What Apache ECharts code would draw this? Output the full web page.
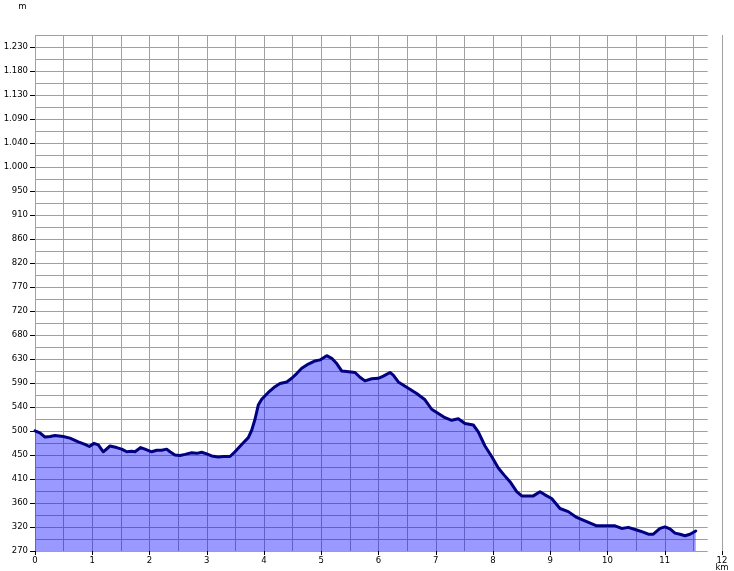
<!DOCTYPE html>
<html><head><meta charset="utf-8">
<script src="https://cdn.jsdelivr.net/npm/echarts@6/dist/echarts.min.js"></script>
<style>html,body{margin:0;padding:0;background:#fff}#c{width:734px;height:571px}</style>
</head><body><div id="c"></div>
<script>
// Distance along the route (km)
const distKm = [0.000,0.087,0.175,0.262,0.349,0.494,0.611,0.756,0.873,0.948,1.031,1.106,1.193,1.310,1.427,1.514,1.602,1.689,1.747,1.846,1.921,2.038,2.126,2.213,2.300,2.358,2.445,2.533,2.620,2.737,2.824,2.912,2.999,3.086,3.202,3.289,3.406,3.493,3.610,3.726,3.785,3.843,3.900,3.960,4.075,4.192,4.279,4.397,4.484,4.571,4.659,4.774,4.891,4.978,5.095,5.183,5.270,5.357,5.445,5.590,5.677,5.764,5.881,5.997,6.084,6.201,6.258,6.346,6.493,6.667,6.812,6.929,7.045,7.162,7.279,7.394,7.511,7.656,7.743,7.860,7.977,8.093,8.192,8.297,8.414,8.501,8.704,8.821,8.908,9.025,9.170,9.315,9.462,9.637,9.811,9.986,10.131,10.248,10.363,10.510,10.625,10.712,10.800,10.917,11.004,11.092,11.179,11.266,11.354,11.441,11.541];
// Elevation (m)
const elevM = [499,495,487,488,490,488,485,478,473,469,475,472,459,470,467,464,459,460,459,467,464,459,462,462,464,459,453,452,454,457,456,458,455,451,449,450,450,459,473,486,500,521,548,559,572,583,589,592,599,608,618,626,632,634,642,637,627,613,612,610,601,594,598,599,603,610,605,592,582,570,558,540,532,524,519,522,513,510,497,470,450,428,415,402,383,375,375,383,377,370,351,345,334,326,318,318,318,313,315,310,306,302,302,313,316,312,304,302,299,302,308];
// Tick labels
const yTickLabels = ['270','320','360','410','450','500','540','590','630','680','720','770','820','860','910','950','1.000','1.040','1.090','1.130','1.180','1.230'];
const xTickValues = [0,1,2,3,4,5,6,7,8,9,10,11,12];
const yUnit = 'm';
const xUnit = 'km';

const yMin = 270, yTopLabel = 1230;
const nHalf = (yTickLabels.length - 1) * 2;          // half steps up to the top label
const yHalf = (yTopLabel - yMin) / nHalf;
const ySlots = nHalf + 1;                             // one more half step to the top edge
const yCats = [];
for (let i = 0; i <= ySlots; i++) yCats.push(i % 2 === 0 && i / 2 < yTickLabels.length ? yTickLabels[i / 2] : '');
const data = distKm.map((d, i) => [d, elevM[i]]);
const xMax = xTickValues[xTickValues.length - 1];

const kmPx = 57.25;
const gridColor = '#a0a0a0';
const font = { fontFamily: 'DejaVu Sans', fontSize: 8.5, color: '#000' };

const chart = echarts.init(document.getElementById('c'), null, { renderer: 'canvas' });
chart.setOption({
  animation: false,
  backgroundColor: '#fff',
  grid: [
    { left: 35, top: 35, width: kmPx * 11.75, height: 516, outerBoundsMode: 'none', containLabel: false },
    { left: 35, top: 35, width: kmPx * 12, height: 516, outerBoundsMode: 'none', containLabel: false }
  ],
  xAxis: [
    { gridIndex: 0, type: 'value', min: 0, max: 11.75, interval: 0.5,
      axisLine: { show: false }, axisTick: { show: false }, axisLabel: { show: false },
      splitLine: { show: true, showMaxLine: false, lineStyle: { color: gridColor, width: 1 } } },
    { gridIndex: 1, type: 'value', min: 0, max: xMax, interval: 1,
      axisLine: { show: false },
      axisTick: { show: true, length: 4, lineStyle: { color: '#000', width: 1 } },
      axisLabel: Object.assign({ margin: 5, lineHeight: 9,
        formatter: v => v === xMax ? String(v) + '\n{k|' + xUnit + '}' : String(v),
        rich: { k: Object.assign({ lineHeight: 6 }, font) } }, font),
      splitLine: { show: true, showMinLine: false, lineStyle: { color: gridColor, width: 1 } } }
  ],
  yAxis: [
    { gridIndex: 0, type: 'value', min: yMin, max: yMin + ySlots * yHalf, show: false },
    { gridIndex: 0, type: 'category', data: yCats, boundaryGap: false, position: 'left',
      name: yUnit, nameLocation: 'end', nameGap: 24,
      nameTextStyle: Object.assign({ padding: [0, 25, 0, 0], align: 'center' }, font),
      axisLine: { show: false },
      axisTick: { show: true, interval: (i) => i % 2 === 0 && i <= nHalf, length: 5, lineStyle: { color: '#000', width: 1 } },
      axisLabel: Object.assign({ interval: 0, margin: 7 }, font),
      splitLine: { show: true, interval: 0, lineStyle: { color: gridColor, width: 1 } } },
    { gridIndex: 1, type: 'value', min: 0, max: 1, show: false }
  ],
  series: [{
    type: 'line', xAxisIndex: 0, yAxisIndex: 0, data: data,
    symbol: 'none', showSymbol: false, smooth: false,
    lineStyle: { color: '#000080', width: 3, cap: 'round', join: 'round' },
    itemStyle: { color: '#000080' },
    areaStyle: { color: 'rgba(0,0,255,0.4)', opacity: 1 }
  }]
});
</script>
</body></html>
